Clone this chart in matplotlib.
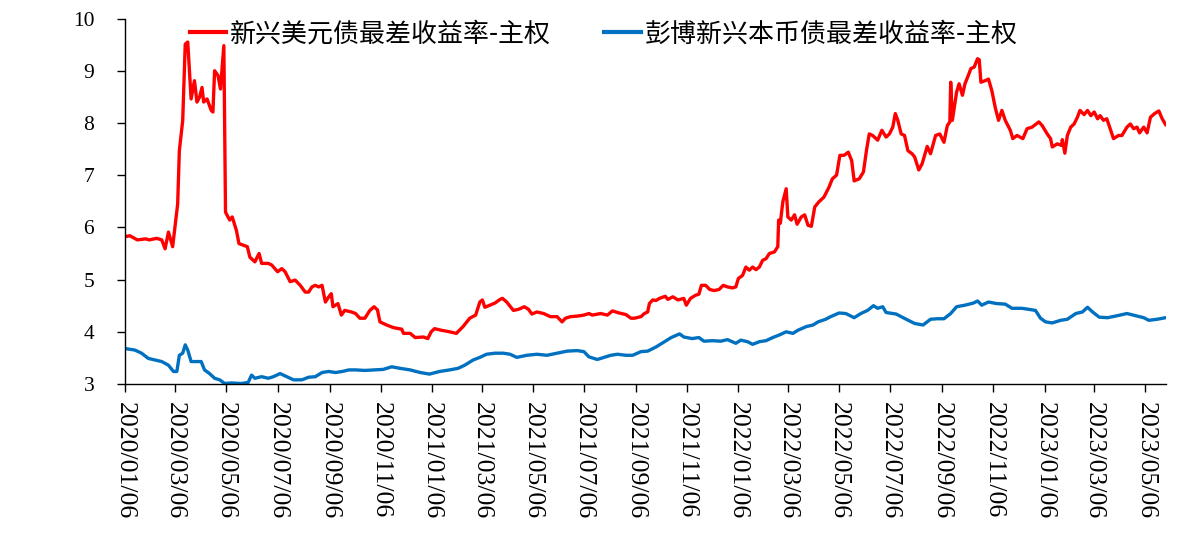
import numpy as np
import pandas as pd
import matplotlib
matplotlib.use("Agg")
import matplotlib.pyplot as plt
import matplotlib.dates as mdates

# 新兴美元债最差收益率-主权
usd_dates = [
    "2020-01-06", "2020-01-12", "2020-01-21", "2020-01-31", "2020-02-04", "2020-02-13",
    "2020-02-19", "2020-02-23", "2020-02-27", "2020-03-03", "2020-03-09", "2020-03-11",
    "2020-03-15", "2020-03-18", "2020-03-21", "2020-03-25", "2020-03-29", "2020-04-01",
    "2020-04-04", "2020-04-07", "2020-04-09", "2020-04-13", "2020-04-18", "2020-04-20",
    "2020-04-22", "2020-04-26", "2020-04-29", "2020-05-03", "2020-05-05", "2020-05-10",
    "2020-05-13", "2020-05-18", "2020-05-21", "2020-05-26", "2020-05-31", "2020-06-03",
    "2020-06-09", "2020-06-14", "2020-06-17", "2020-06-25", "2020-06-29", "2020-07-06",
    "2020-07-11", "2020-07-15", "2020-07-21", "2020-07-27", "2020-08-02", "2020-08-08",
    "2020-08-12", "2020-08-16", "2020-08-20", "2020-08-24", "2020-08-28", "2020-09-01",
    "2020-09-05", "2020-09-08", "2020-09-10", "2020-09-16", "2020-09-20", "2020-09-24",
    "2020-10-02", "2020-10-07", "2020-10-12", "2020-10-18", "2020-10-24", "2020-10-29",
    "2020-11-02", "2020-11-05", "2020-11-13", "2020-11-21", "2020-12-01", "2020-12-03",
    "2020-12-11", "2020-12-17", "2020-12-27", "2021-01-01", "2021-01-05", "2021-01-09",
    "2021-01-17", "2021-01-27", "2021-02-04", "2021-02-12", "2021-02-20", "2021-02-27",
    "2021-03-04", "2021-03-07", "2021-03-10", "2021-03-16", "2021-03-22", "2021-03-28",
    "2021-03-31", "2021-04-05", "2021-04-13", "2021-04-19", "2021-04-26", "2021-05-01",
    "2021-05-05", "2021-05-11", "2021-05-19", "2021-05-27", "2021-06-04", "2021-06-10",
    "2021-06-14", "2021-06-20", "2021-06-28", "2021-07-06", "2021-07-12", "2021-07-16",
    "2021-07-26", "2021-08-03", "2021-08-09", "2021-08-17", "2021-08-25", "2021-08-31",
    "2021-09-04", "2021-09-12", "2021-09-16", "2021-09-20", "2021-09-22", "2021-09-26",
    "2021-09-30", "2021-10-04", "2021-10-11", "2021-10-14", "2021-10-20", "2021-10-26",
    "2021-11-02", "2021-11-05", "2021-11-10", "2021-11-16", "2021-11-20", "2021-11-23",
    "2021-11-28", "2021-12-03", "2021-12-08", "2021-12-14", "2021-12-19", "2021-12-24",
    "2021-12-30", "2022-01-03", "2022-01-06", "2022-01-11", "2022-01-15", "2022-01-19",
    "2022-01-23", "2022-01-27", "2022-01-31", "2022-02-04", "2022-02-08", "2022-02-12",
    "2022-02-18", "2022-02-22", "2022-02-23", "2022-02-25", "2022-02-28", "2022-03-04",
    "2022-03-06", "2022-03-10", "2022-03-14", "2022-03-17", "2022-03-22", "2022-03-26",
    "2022-03-30", "2022-04-03", "2022-04-07", "2022-04-12", "2022-04-18", "2022-04-24",
    "2022-04-28", "2022-05-03", "2022-05-07", "2022-05-12", "2022-05-17", "2022-05-21",
    "2022-05-24", "2022-05-30", "2022-06-04", "2022-06-08", "2022-06-11", "2022-06-15",
    "2022-06-21", "2022-06-26", "2022-07-01", "2022-07-05", "2022-07-09", "2022-07-12",
    "2022-07-15", "2022-07-19", "2022-07-23", "2022-07-27", "2022-08-01", "2022-08-04",
    "2022-08-09", "2022-08-13", "2022-08-19", "2022-08-23", "2022-08-29", "2022-09-03",
    "2022-09-08", "2022-09-12", "2022-09-15", "2022-09-16", "2022-09-18", "2022-09-23",
    "2022-09-26", "2022-09-30", "2022-10-03", "2022-10-07", "2022-10-10", "2022-10-14",
    "2022-10-18", "2022-10-20", "2022-10-22", "2022-10-27", "2022-10-31", "2022-11-04",
    "2022-11-08", "2022-11-12", "2022-11-16", "2022-11-20", "2022-11-26", "2022-11-29",
    "2022-12-04", "2022-12-11", "2022-12-16", "2022-12-22", "2022-12-30", "2023-01-03",
    "2023-01-09", "2023-01-13", "2023-01-15", "2023-01-21", "2023-01-26", "2023-01-27",
    "2023-01-30", "2023-02-02", "2023-02-06", "2023-02-10", "2023-02-14", "2023-02-17",
    "2023-02-22", "2023-02-26", "2023-03-02", "2023-03-06", "2023-03-10", "2023-03-13",
    "2023-03-17", "2023-03-21", "2023-03-25", "2023-03-29", "2023-04-04", "2023-04-08",
    "2023-04-14", "2023-04-18", "2023-04-22", "2023-04-26", "2023-04-29", "2023-05-04",
    "2023-05-08", "2023-05-12", "2023-05-17", "2023-05-22", "2023-05-26", "2023-05-30",
]
usd_values = [
    5.82, 5.84, 5.76, 5.78, 5.76, 5.79,
    5.76, 5.59, 5.91, 5.63, 6.45, 7.47,
    8.05, 9.51, 9.55, 8.46, 8.81, 8.40,
    8.49, 8.68, 8.40, 8.46, 8.24, 8.21,
    9.00, 8.91, 8.65, 9.48, 6.29, 6.14,
    6.20, 5.94, 5.69, 5.66, 5.63, 5.43,
    5.34, 5.50, 5.31, 5.31, 5.28, 5.15,
    5.21, 5.15, 4.96, 4.99, 4.89, 4.76,
    4.76, 4.86, 4.89, 4.86, 4.89, 4.57,
    4.67, 4.73, 4.48, 4.54, 4.32, 4.41,
    4.38, 4.35, 4.26, 4.26, 4.41, 4.48,
    4.42, 4.19, 4.13, 4.08, 4.05, 3.97,
    3.97, 3.89, 3.90, 3.87, 4.00, 4.06,
    4.03, 4.00, 3.97, 4.10, 4.26, 4.32,
    4.57, 4.61, 4.47, 4.51, 4.55, 4.62,
    4.64, 4.57, 4.41, 4.43, 4.48, 4.43,
    4.34, 4.38, 4.35, 4.29, 4.29, 4.19,
    4.26, 4.29, 4.30, 4.32, 4.35, 4.32,
    4.35, 4.32, 4.40, 4.36, 4.33, 4.26,
    4.26, 4.29, 4.35, 4.38, 4.54, 4.61,
    4.60, 4.64, 4.68, 4.62, 4.67, 4.61,
    4.64, 4.51, 4.64, 4.70, 4.72, 4.89,
    4.89, 4.81, 4.79, 4.81, 4.89, 4.86,
    4.84, 4.86, 5.02, 5.08, 5.24, 5.18,
    5.24, 5.19, 5.24, 5.37, 5.40, 5.50,
    5.53, 5.63, 6.14, 6.08, 6.49, 6.74,
    6.20, 6.14, 6.24, 6.06, 6.20, 6.24,
    6.04, 6.02, 6.39, 6.49, 6.58, 6.77,
    6.93, 7.00, 7.38, 7.38, 7.44, 7.28,
    6.89, 6.93, 7.06, 7.51, 7.79, 7.76,
    7.67, 7.86, 7.73, 7.79, 7.92, 8.18,
    8.05, 7.79, 7.76, 7.47, 7.41, 7.35,
    7.10, 7.22, 7.55, 7.41, 7.76, 7.79,
    7.63, 7.95, 8.02, 8.78, 8.05, 8.59,
    8.75, 8.53, 8.75, 8.91, 9.04, 9.07,
    9.23, 9.21, 8.78, 8.81, 8.84, 8.62,
    8.30, 8.05, 8.24, 8.05, 7.86, 7.70,
    7.76, 7.70, 7.89, 7.92, 8.02, 7.95,
    7.79, 7.70, 7.54, 7.60, 7.57, 7.68,
    7.42, 7.76, 7.92, 7.98, 8.11, 8.24,
    8.16, 8.24, 8.14, 8.21, 8.08, 8.14,
    8.05, 8.08, 7.89, 7.70, 7.76, 7.76,
    7.92, 7.98, 7.89, 7.92, 7.81, 7.92,
    7.81, 8.11, 8.18, 8.23, 8.08, 7.97,
]

# 彭博新兴本币债最差收益率-主权
local_dates = [
    "2020-01-06", "2020-01-18", "2020-01-26", "2020-02-03", "2020-02-11", "2020-02-19",
    "2020-02-27", "2020-03-04", "2020-03-08", "2020-03-11", "2020-03-15", "2020-03-18",
    "2020-03-21", "2020-03-25", "2020-03-31", "2020-04-06", "2020-04-10", "2020-04-16",
    "2020-04-22", "2020-04-28", "2020-05-04", "2020-05-12", "2020-05-24", "2020-06-01",
    "2020-06-05", "2020-06-09", "2020-06-17", "2020-06-25", "2020-07-01", "2020-07-09",
    "2020-07-17", "2020-07-25", "2020-08-04", "2020-08-12", "2020-08-20", "2020-08-28",
    "2020-09-05", "2020-09-13", "2020-09-21", "2020-09-29", "2020-10-07", "2020-10-18",
    "2020-10-29", "2020-11-09", "2020-11-19", "2020-11-29", "2020-12-11", "2020-12-23",
    "2021-01-03", "2021-01-15", "2021-01-27", "2021-02-06", "2021-02-14", "2021-02-24",
    "2021-03-04", "2021-03-12", "2021-03-22", "2021-04-01", "2021-04-09", "2021-04-17",
    "2021-04-29", "2021-05-11", "2021-05-23", "2021-06-04", "2021-06-16", "2021-06-28",
    "2021-07-06", "2021-07-12", "2021-07-22", "2021-07-30", "2021-08-07", "2021-08-15",
    "2021-08-25", "2021-09-02", "2021-09-12", "2021-09-20", "2021-09-30", "2021-10-10",
    "2021-10-18", "2021-10-28", "2021-11-02", "2021-11-12", "2021-11-20", "2021-11-26",
    "2021-12-06", "2021-12-16", "2021-12-24", "2022-01-03", "2022-01-09", "2022-01-17",
    "2022-01-23", "2022-01-31", "2022-02-08", "2022-02-16", "2022-02-24", "2022-03-04",
    "2022-03-12", "2022-03-18", "2022-03-28", "2022-04-05", "2022-04-11", "2022-04-20",
    "2022-04-26", "2022-05-06", "2022-05-14", "2022-05-24", "2022-06-01", "2022-06-09",
    "2022-06-16", "2022-06-21", "2022-06-27", "2022-07-01", "2022-07-13", "2022-07-25",
    "2022-08-04", "2022-08-14", "2022-08-23", "2022-08-31", "2022-09-08", "2022-09-16",
    "2022-09-23", "2022-10-03", "2022-10-13", "2022-10-18", "2022-10-23", "2022-10-31",
    "2022-11-10", "2022-11-20", "2022-11-28", "2022-12-10", "2022-12-26", "2023-01-01",
    "2023-01-07", "2023-01-15", "2023-01-25", "2023-02-02", "2023-02-12", "2023-02-20",
    "2023-02-26", "2023-03-04", "2023-03-12", "2023-03-22", "2023-04-03", "2023-04-14",
    "2023-04-24", "2023-05-04", "2023-05-10", "2023-05-20", "2023-05-30",
]
local_values = [
    3.68, 3.65, 3.59, 3.49, 3.46, 3.43,
    3.36, 3.24, 3.24, 3.55, 3.59, 3.75,
    3.65, 3.43, 3.43, 3.43, 3.27, 3.20,
    3.11, 3.08, 3.01, 3.02, 3.01, 3.03,
    3.17, 3.11, 3.14, 3.11, 3.14, 3.20,
    3.14, 3.08, 3.08, 3.13, 3.14, 3.22,
    3.24, 3.22, 3.24, 3.27, 3.27, 3.26,
    3.27, 3.28, 3.33, 3.30, 3.27, 3.22,
    3.19, 3.24, 3.27, 3.30, 3.36, 3.46,
    3.51, 3.57, 3.59, 3.59, 3.57, 3.51,
    3.55, 3.57, 3.55, 3.59, 3.63, 3.64,
    3.62, 3.52, 3.47, 3.51, 3.55, 3.57,
    3.55, 3.55, 3.62, 3.63, 3.71, 3.81,
    3.89, 3.96, 3.90, 3.87, 3.89, 3.82,
    3.83, 3.82, 3.85, 3.78, 3.84, 3.81,
    3.76, 3.81, 3.83, 3.89, 3.94, 4.00,
    3.97, 4.03, 4.10, 4.13, 4.19, 4.24,
    4.29, 4.36, 4.35, 4.27, 4.35, 4.41,
    4.50, 4.45, 4.48, 4.37, 4.34, 4.24,
    4.16, 4.13, 4.24, 4.25, 4.25, 4.35,
    4.48, 4.51, 4.55, 4.59, 4.51, 4.57,
    4.54, 4.53, 4.45, 4.45, 4.41, 4.26,
    4.19, 4.17, 4.22, 4.24, 4.35, 4.38,
    4.47, 4.38, 4.28, 4.27, 4.31, 4.35,
    4.31, 4.27, 4.22, 4.24, 4.27,
]

usd_label = "新兴美元债最差收益率-主权"
local_label = "彭博新兴本币债最差收益率-主权"

tick_dates = [
    "2020-01-06", "2020-03-06", "2020-05-06", "2020-07-06", "2020-09-06", "2020-11-06",
    "2021-01-06", "2021-03-06", "2021-05-06", "2021-07-06", "2021-09-06", "2021-11-06",
    "2022-01-06", "2022-03-06", "2022-05-06", "2022-07-06", "2022-09-06", "2022-11-06",
    "2023-01-06", "2023-03-06", "2023-05-06",
]

serif = ["Liberation Serif", "DejaVu Serif"]
cjk = ["Noto Sans CJK SC", "DejaVu Sans"]

fig = plt.figure(figsize=(12, 5.45), dpi=100)
ax = fig.add_axes([0.104, 0.2954, 0.868, 0.6706])

ax.plot(pd.to_datetime(usd_dates), usd_values, color="#FF0000", lw=2.4, label=usd_label)
ax.plot(pd.to_datetime(local_dates), local_values, color="#0070C0", lw=2.4, label=local_label)

ax.set_xlim(pd.Timestamp("2020-01-06"), pd.Timestamp("2023-05-31"))
ax.set_ylim(3, 10)
ax.set_yticks(np.arange(3, 11, 1))
ax.set_xticks(pd.to_datetime(tick_dates))
ax.xaxis.set_major_formatter(mdates.DateFormatter("%Y/%m/%d"))

for s in ["top", "right"]:
    ax.spines[s].set_visible(False)
for s in ["left", "bottom"]:
    ax.spines[s].set_linewidth(1.0)
    ax.spines[s].set_color("black")

ax.tick_params(axis="y", direction="out", length=6, width=1, pad=16)
ax.tick_params(axis="x", direction="out", length=6, width=1, pad=7)
for t in ax.get_yticklabels():
    t.set_fontfamily(serif)
    t.set_fontsize(15.5)
for t in ax.get_xticklabels():
    t.set_fontfamily(serif)
    t.set_fontsize(18.5)
    t.set_rotation(-90)
    t.set_ha("center")
    t.set_va("top")

fig.legend(loc="center left", bbox_to_anchor=(177 / 1200, 1 - 34 / 545), ncol=2,
           frameon=False, borderpad=0, handlelength=1.4, handletextpad=0.15,
           columnspacing=2.05, prop={"family": cjk, "size": 18.7})
for line in fig.legends[0].get_lines():
    line.set_linewidth(3)

fig.savefig("out.png", dpi=100)
